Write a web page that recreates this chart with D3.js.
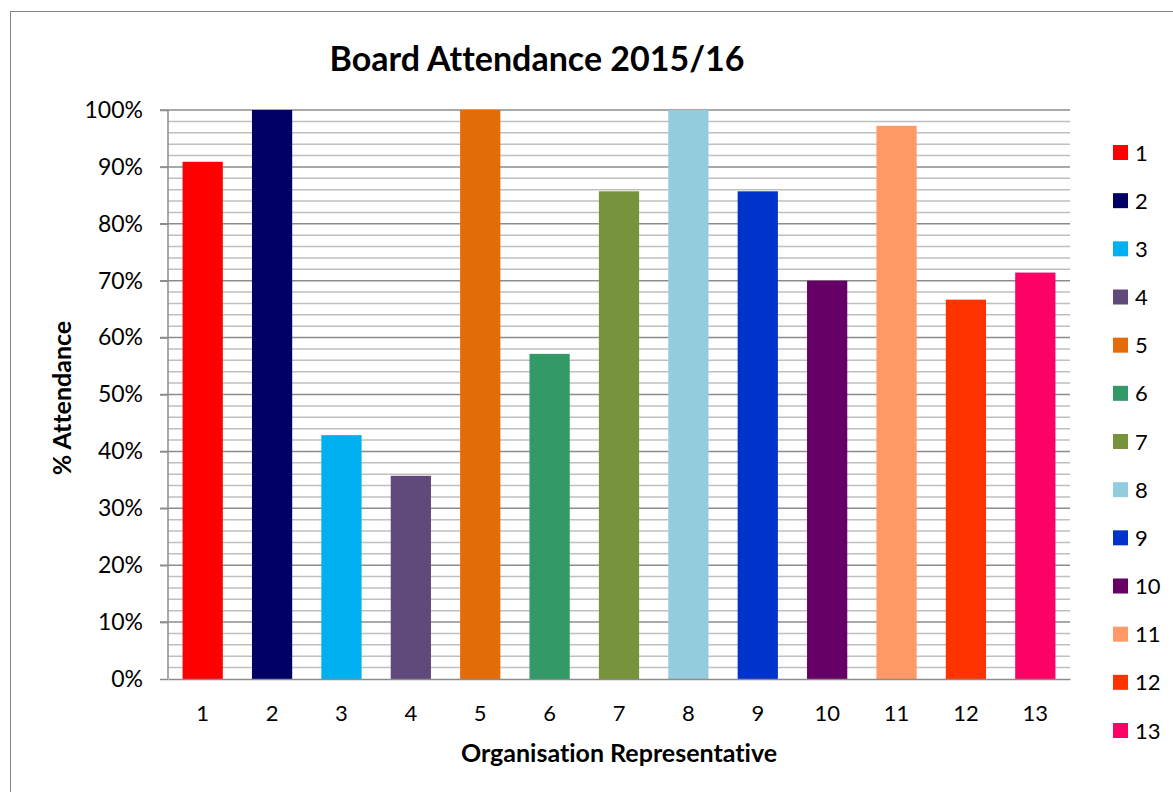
<!DOCTYPE html>
<html><head><meta charset="utf-8">
<script src="https://cdn.jsdelivr.net/npm/d3@7"></script>
<style>body{margin:0;background:#fff}svg{display:block}text{font-family:Lato,"Open Sans",sans-serif;fill:#000;font-variant-ligatures:none}</style>
</head><body>
<svg id="c" width="1173" height="792"></svg>
<script>
const categories = ["1","2","3","4","5","6","7","8","9","10","11","12","13"];
const values = [0.909, 1.0, 0.4286, 0.3571, 1.0, 0.5714, 0.8571, 1.0, 0.8571, 0.70, 0.9722, 0.6667, 0.7143];
const colors = ["#FF0000","#000066","#00B0F0","#604A7B","#E36C09","#339966","#77933C","#93CDDD","#0033CC","#660066","#FF9966","#FF3300","#FF0066"];
const majorTicks = [0,0.1,0.2,0.3,0.4,0.5,0.6,0.7,0.8,0.9,1.0];
const minorTicks = d3.range(0, 1.0001, 0.02);
const title = "Board Attendance 2015/16";
const xTitle = "Organisation Representative";
const yTitle = "% Attendance";

const svg = d3.select("#c");
svg.append("rect").attr("x",10.5).attr("y",11.5).attr("width",1200).attr("height",900)
  .attr("fill","none").attr("stroke","#868686").attr("stroke-width",1);

const L=168, R=1070, T=110, B=679;
const x = d3.scaleBand().domain(categories).range([L,R]).paddingInner(0.42).paddingOuter(0.21);
const y = d3.scaleLinear().domain([0,1]).range([B,T]);

const g = svg.append("g");
g.selectAll("line.minor").data(minorTicks.filter(v=>Math.round(v*100)%10!==0)).join("line")
  .attr("x1",L).attr("x2",R).attr("y1",d=>y(d)).attr("y2",d=>y(d))
  .attr("stroke","#BFBFBF").attr("stroke-width",1.5);
g.selectAll("line.major").data(majorTicks.filter(v=>v>0)).join("line")
  .attr("x1",L-8).attr("x2",R).attr("y1",d=>y(d)).attr("y2",d=>y(d))
  .attr("stroke","#8C8C8C").attr("stroke-width",1.5);

g.selectAll("rect.bar").data(values).join("rect")
  .attr("x",(d,i)=>x(categories[i])).attr("width",x.bandwidth())
  .attr("y",d=>y(d)).attr("height",d=>B-y(d)).attr("fill",(d,i)=>colors[i]);

const ya = svg.append("g").attr("transform",`translate(${L},0)`)
  .call(d3.axisLeft(y).tickValues(majorTicks).tickFormat(d3.format(".0%")).tickSize(8).tickPadding(17));
ya.select(".domain").attr("stroke","#8C8C8C").attr("stroke-width",1.5).attr("d",`M0,${T}V${B}`);
ya.selectAll(".tick line").attr("stroke","#8C8C8C").attr("stroke-width",1.5);
ya.selectAll(".tick text").style("font-size","23px").style("font-family","Lato,sans-serif").attr("fill","#000");

const xa = svg.append("g").attr("transform",`translate(0,${B})`)
  .call(d3.axisBottom(x).tickSize(0).tickPadding(26));
xa.select(".domain").attr("stroke","#8C8C8C").attr("stroke-width",1.5);
xa.selectAll(".tick text").style("font-size","22px").style("font-family","Lato,sans-serif").attr("fill","#000");

svg.append("text").attr("x",537).attr("y",71).attr("text-anchor","middle")
  .style("font-size","34px").style("font-weight","bold").text(title);
svg.append("text").attr("x",619).attr("y",762).attr("text-anchor","middle")
  .style("font-size","25px").style("font-weight","bold").text(xTitle);
svg.append("text").attr("transform","translate(71,398) rotate(-90)").attr("text-anchor","middle")
  .style("font-size","25px").style("font-weight","bold").text(yTitle);

const lg = svg.append("g");
const ly = d3.scalePoint().domain(categories).range([152.5,730.5]);
lg.selectAll("rect").data(categories).join("rect")
  .attr("x",1113).attr("y",d=>ly(d)-7.5).attr("width",15).attr("height",15)
  .attr("fill",(d,i)=>colors[i]);
lg.selectAll("text").data(categories).join("text")
  .attr("x",1135).attr("y",d=>ly(d)+8).style("font-size","22px").text(d=>d);
</script>
</body></html>
